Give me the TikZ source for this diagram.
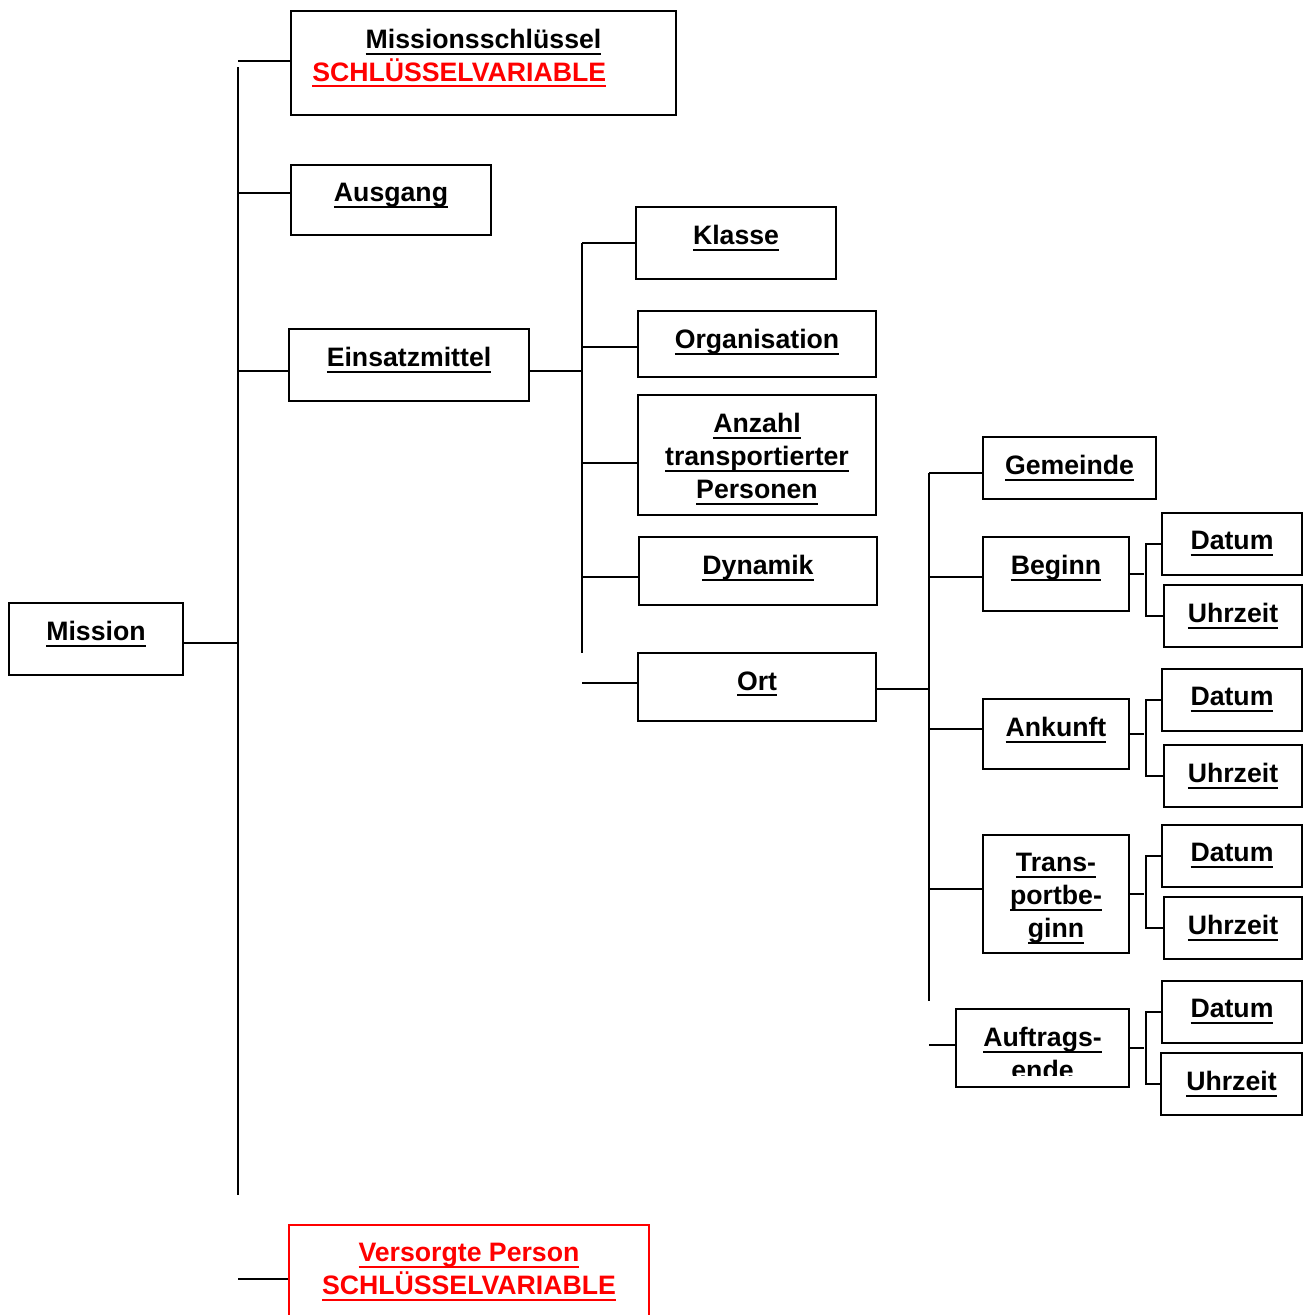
\documentclass[tikz,border=0pt]{standalone}
\usepackage{fontspec}
\setmainfont{Liberation Sans}
\usetikzlibrary{positioning,fit}
\newcommand{\uln}[1]{\leavevmode\setbox0=\hbox{#1}\rlap{\vrule height -3pt depth 4.6pt width \wd0}\box0}
\begin{document}
\begin{tikzpicture}[x=0.75pt,y=-0.75pt,
  box/.style={draw,line width=1.5pt,inner sep=0pt},
  lbl/.style={inner sep=0pt,align=center,font=\bfseries\fontsize{20}{24.75}\selectfont},
  wire/.style={line width=1.4pt}]
\clip (0,0) rectangle (1305,1315);

% boxes
\node[box,fit={(9,603)(183,675)}] (mission) {};
\node[box,fit={(291,11)(676,115)}] (mkey) {};
\node[box,fit={(291,165)(491,235)}] (ausgang) {};
\node[box,fit={(289,329)(529,401)}] (einsatz) {};
\node[box,fit={(636,207)(836,279)}] (klasse) {};
\node[box,fit={(638,311)(876,377)}] (orga) {};
\node[box,fit={(638,395)(876,515)}] (anzahl) {};
\node[box,fit={(639,537)(877,605)}] (dynamik) {};
\node[box,fit={(638,653)(876,721)}] (ort) {};
\node[box,fit={(983,437)(1156,499)}] (gemeinde) {};
\node[box,fit={(983,537)(1129,611)}] (beginn) {};
\node[box,fit={(983,699)(1129,769)}] (ankunft) {};
\node[box,fit={(983,835)(1129,953)}] (transp) {};
\node[box,fit={(956,1009)(1129,1087)}] (auftrag) {};
\node[box,fit={(1162,513)(1302,575)}] (d1) {};
\node[box,fit={(1164,585)(1302,647)}] (u1) {};
\node[box,fit={(1162,669)(1302,731)}] (d2) {};
\node[box,fit={(1164,745)(1302,807)}] (u2) {};
\node[box,fit={(1162,825)(1302,887)}] (d3) {};
\node[box,fit={(1164,897)(1302,959)}] (u3) {};
\node[box,fit={(1162,981)(1302,1043)}] (d4) {};
\node[box,fit={(1161,1053)(1302,1115)}] (u4) {};
\node[box,draw=red,fit={(289,1225)(649,1345)}] (versorgt) {};

% texts
\node[lbl,below=14.5pt of mission.north] (mission-t) {\uln{Mission}};
\node[lbl,below=14.5pt of mkey.north] (mkey-t) {\uln{Missionsschlüssel}};
\node[lbl,text=red,anchor=base west] (mkey-v) at (312,81) {\uln{SCHLÜSSELVARIABLE}};
\node[lbl,below=14.5pt of ausgang.north] (ausgang-t) {\uln{Ausgang}};
\node[lbl,below=14.5pt of einsatz.north] (einsatz-t) {\uln{Einsatzmittel}};
\node[lbl,below=14.5pt of klasse.north] (klasse-t) {\uln{Klasse}};
\node[lbl,below=14.5pt of orga.north] (orga-t) {\uln{Organisation}};
\node[lbl,below=14.5pt of anzahl.north] (anzahl-t) {\uln{Anzahl}\\\uln{transportierter}\\\uln{Personen}};
\node[lbl,below=14.5pt of dynamik.north] (dynamik-t) {\uln{Dynamik}};
\node[lbl,below=14.5pt of ort.north] (ort-t) {\uln{Ort}};
\node[lbl,below=14.5pt of gemeinde.north] (gemeinde-t) {\uln{Gemeinde}};
\node[lbl,below=14.5pt of beginn.north] (beginn-t) {\uln{Beginn}};
\node[lbl,below=14.5pt of ankunft.north] (ankunft-t) {\uln{Ankunft}};
\node[lbl,below=14.5pt of transp.north] (transp-t) {\uln{Trans-}\\\uln{portbe-}\\\uln{ginn}};
\begin{scope}
\clip (957,1010) rectangle (1128,1075);
\node[lbl,below=14.5pt of auftrag.north] (auftrag-t) {\uln{Auftrags-}\\\uln{ende}};
\end{scope}
\foreach \b in {d1,d2,d3,d4}
  \node[lbl,below=14.5pt of \b.north] (\b-t) {\uln{Datum}};
\foreach \b in {u1,u2,u3,u4}
  \node[lbl,below=14.5pt of \b.north] (\b-t) {\uln{Uhrzeit}};
\node[lbl,text=red,below=14.5pt of versorgt.north] (versorgt-t) {\uln{Versorgte Person}\\\uln{SCHLÜSSELVARIABLE}};

% first level
\coordinate (t1a) at (238,67);
\coordinate (t1b) at (238,1195);
\draw[wire] (t1a) -- (t1b);
\draw[wire] ([yshift=-3pt]mission.east) -- ([yshift=-3pt]mission.east -| t1a);
\draw[wire] ([yshift=1.5pt]mkey.west) -- ([yshift=1.5pt]mkey.west -| t1a);
\draw[wire] ([yshift=5pt]ausgang.west) -- ([yshift=5pt]ausgang.west -| t1a);
\draw[wire] ([yshift=-4.5pt]einsatz.west) -- ([yshift=-4.5pt]einsatz.west -| t1a);
\draw[wire] ([yshift=4.5pt]versorgt.west) -- ([yshift=4.5pt]versorgt.west -| t1a);

% second level
\coordinate (t2a) at (582,243);
\coordinate (t2b) at (582,653);
\draw[wire] (t2a) -- (t2b);
\draw[wire] ([yshift=-4.5pt]einsatz.east) -- ([yshift=-4.5pt]einsatz.east -| t2a);
\draw[wire] (klasse.west) -- (klasse.west -| t2a);
\draw[wire] ([yshift=-2pt]orga.west) -- ([yshift=-2pt]orga.west -| t2a);
\draw[wire] ([yshift=-6pt]anzahl.west) -- ([yshift=-6pt]anzahl.west -| t2a);
\draw[wire] ([yshift=-4.5pt]dynamik.west) -- ([yshift=-4.5pt]dynamik.west -| t2a);
\draw[wire] ([yshift=3pt]ort.west) -- ([yshift=3pt]ort.west -| t2a);

% third level
\coordinate (t3a) at (929,473);
\coordinate (t3b) at (929,1001);
\draw[wire] (t3a) -- (t3b);
\draw[wire] ([yshift=-1.5pt]ort.east) -- ([yshift=-1.5pt]ort.east -| t3a);
\draw[wire] ([yshift=-3.75pt]gemeinde.west) -- ([yshift=-3.75pt]gemeinde.west -| t3a);
\draw[wire] ([yshift=-2pt]beginn.west) -- ([yshift=-2pt]beginn.west -| t3a);
\draw[wire] ([yshift=3.75pt]ankunft.west) -- ([yshift=3.75pt]ankunft.west -| t3a);
\draw[wire] ([yshift=3.75pt]transp.west) -- ([yshift=3.75pt]transp.west -| t3a);
\draw[wire] ([yshift=2pt]auftrag.west) -- ([yshift=2pt]auftrag.west -| t3a);

% date and time
\foreach \p/\d/\u in {beginn/d1/u1,ankunft/d2/u2,transp/d3/u3,auftrag/d4/u4}{
  \draw[wire] (\p.east) -- ++(14,0);
  \draw[wire] (\d.west) -- ++(-15,0) |- (\u.west);
}
\end{tikzpicture}
\end{document}
